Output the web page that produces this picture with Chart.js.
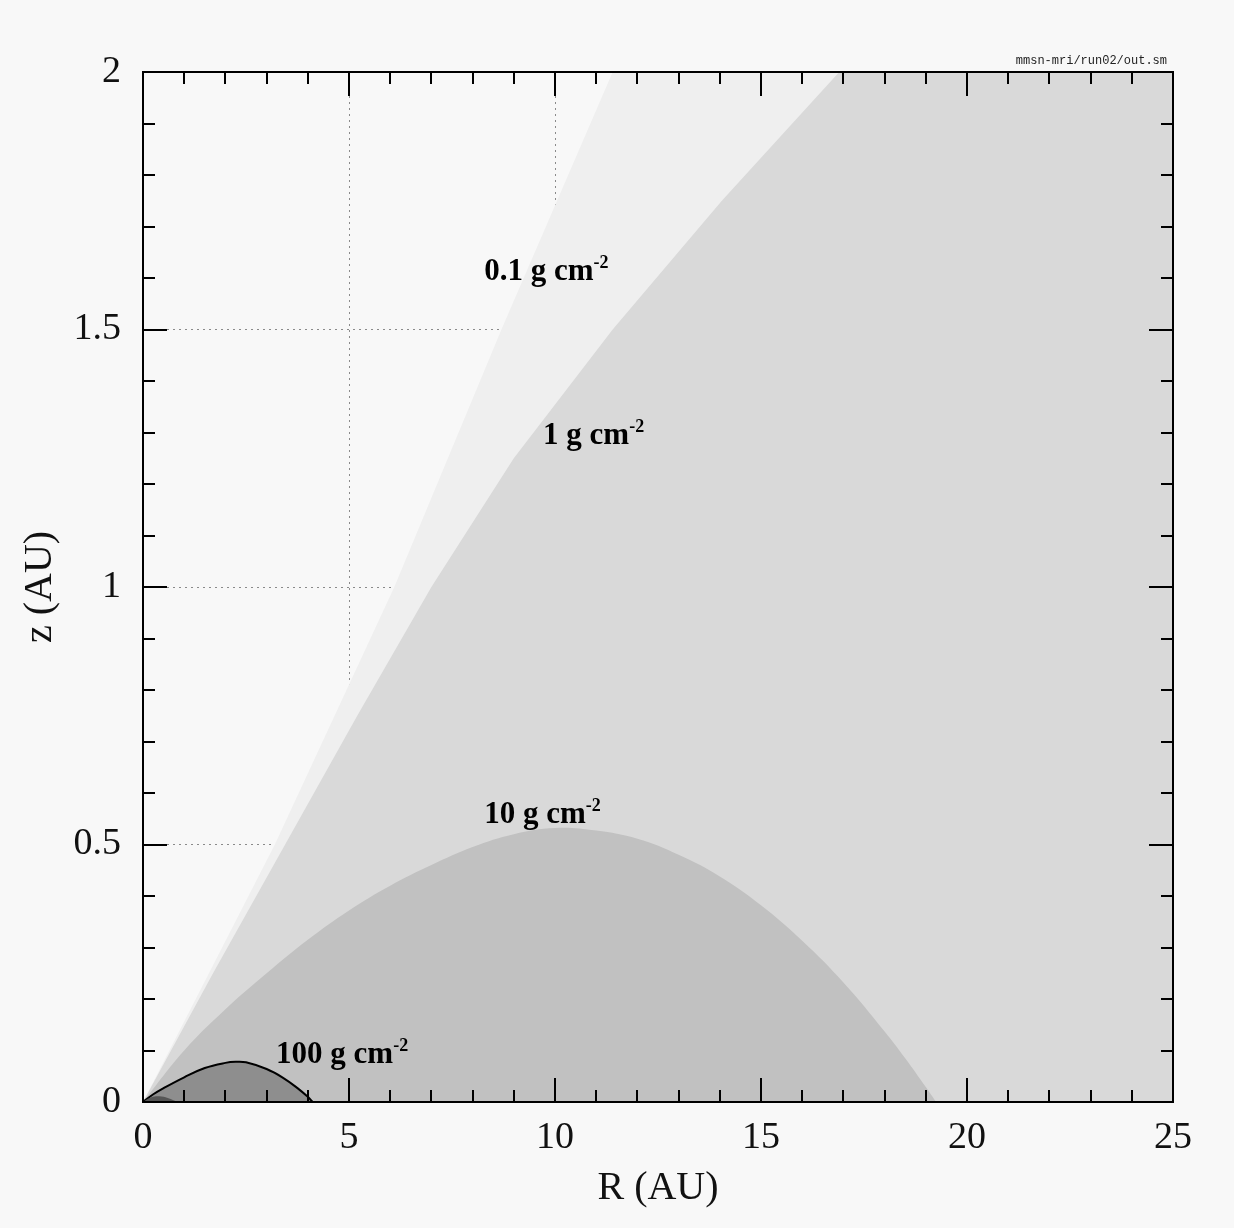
<!DOCTYPE html>
<html>
<head>
<meta charset="utf-8">
<title>Column density contours</title>
<script src="https://cdn.jsdelivr.net/npm/chart.js@4.4.1/dist/chart.umd.min.js"></script>
<style>
  html, body { margin: 0; padding: 0; background: #f8f8f8; }
  canvas { display: block; }
</style>
</head>
<body>
<canvas id="diskChart" width="1234" height="1228"></canvas>
<script>
// contours of column density measured down from the surface, R and z in AU
const sigma01R = [0, 3.2, 6.1, 8.7, 11.4, 25];
const sigma01Z = [0, 0.5, 1.0, 1.5, 2.0, 2.0];

const sigma1R = [0, 1.7, 3.45, 5.2, 7.0, 9.0, 11.4, 14.05, 16.9, 25];
const sigma1Z = [0, 0.25, 0.5, 0.75, 1.0, 1.25, 1.5, 1.75, 2.0, 2.0];

const sigma10R = [0, 1, 2, 3, 4, 5, 6, 7, 8, 9, 10, 11, 12, 13, 14, 15, 16, 17, 18, 18.5, 19, 19.25];
const sigma10Z = [0, 0.10, 0.18, 0.25, 0.315, 0.372, 0.42, 0.46, 0.495, 0.52, 0.532, 0.527, 0.511, 0.48, 0.438, 0.382, 0.313, 0.232, 0.137, 0.085, 0.029, 0];

const sigma100R = [0, 0.25, 0.5, 1, 1.5, 2, 2.25, 2.5, 3, 3.4, 3.75, 4.0, 4.12];
const sigma100Z = [0, 0.015, 0.027, 0.048, 0.066, 0.076, 0.078, 0.077, 0.064, 0.047, 0.027, 0.01, 0];

const sigma1000R = [0, 0.2, 0.4, 0.6, 0.85];
const sigma1000Z = [0, 0.009, 0.011, 0.008, 0];

const xTicks = [0, 5, 10, 15, 20, 25];
const yTicks = [0, 0.5, 1, 1.5, 2];

// label text, value of the contour, and where its text starts (R, z)
const contourLabels = [
  { value: '0.1', R: 8.28, z: 1.596 },
  { value: '1',   R: 9.71, z: 1.278 },
  { value: '10',  R: 8.28, z: 0.541 },
  { value: '100', R: 3.23, z: 0.076 }
];

const toPoints = (rs, zs) => rs.map((r, i) => ({ x: r, y: zs[i] }));

function region(rs, zs, color, order, tension) {
  return {
    data: toPoints(rs, zs),
    backgroundColor: color,
    borderWidth: 0,
    pointRadius: 0,
    fill: 'origin',
    order: order,
    tension: tension
  };
}

const outline100 = region(sigma100R, sigma100Z, '#8e8e8e', 2, 0.4);
outline100.borderWidth = 2;
outline100.borderColor = '#000';

const serif = '"Liberation Serif", "Times New Roman", serif';

const framePlugin = {
  id: 'frame',
  afterDatasetsDraw(chart) {
    const { ctx, chartArea: a, scales: { x, y } } = chart;
    ctx.save();
    ctx.strokeStyle = '#000';
    ctx.lineWidth = 2;
    ctx.beginPath();
    for (let i = 0; i <= 25; i++) {
      const px = Math.round(x.getPixelForValue(i));
      const len = i % 5 === 0 ? 24 : 12;
      ctx.moveTo(px, a.bottom); ctx.lineTo(px, a.bottom - len);
      ctx.moveTo(px, a.top); ctx.lineTo(px, a.top + len);
    }
    for (let i = 0; i <= 20; i++) {
      const py = Math.round(y.getPixelForValue(i / 10));
      const len = i % 5 === 0 ? 24 : 12;
      ctx.moveTo(a.left, py); ctx.lineTo(a.left + len, py);
      ctx.moveTo(a.right, py); ctx.lineTo(a.right - len, py);
    }
    ctx.stroke();
    ctx.strokeRect(a.left, a.top, a.width, a.height);

    // contour labels, e.g. "10 g cm^-2"
    ctx.fillStyle = '#000';
    ctx.textBaseline = 'alphabetic';
    ctx.textAlign = 'left';
    contourLabels.forEach(l => {
      const px = x.getPixelForValue(l.R);
      const py = y.getPixelForValue(l.z);
      ctx.font = 'bold 31px ' + serif;
      const main = l.value + ' g cm';
      ctx.fillText(main, px, py);
      const w = ctx.measureText(main).width;
      ctx.font = 'bold 18px ' + serif;
      ctx.fillText('-2', px + w, py - 12);
    });

    ctx.font = '12px "Liberation Mono", monospace';
    ctx.textAlign = 'right';
    ctx.fillStyle = '#222';
    ctx.fillText('mmsn-mri/run02/out.sm', a.right - 6, a.top - 8);
    ctx.restore();
  }
};

new Chart(document.getElementById('diskChart').getContext('2d'), {
  type: 'line',
  data: {
    datasets: [
      region(sigma1000R, sigma1000Z, '#555555', 1, 0.4),
      outline100,
      region(sigma10R, sigma10Z, '#c1c1c1', 3, 0.4),
      region(sigma1R, sigma1Z, '#d9d9d9', 4, 0),
      region(sigma01R, sigma01Z, '#efefef', 5, 0)
    ]
  },
  options: {
    responsive: false,
    animation: false,
    layout: { padding: { left: 0, top: 72, right: 61, bottom: 0 } },
    plugins: {
      legend: { display: false },
      tooltip: { enabled: false }
    },
    scales: {
      x: {
        type: 'linear',
        min: 0,
        max: 25,
        afterFit: s => { s.height = 126; },
        afterBuildTicks: s => { s.ticks = xTicks.map(v => ({ value: v })); },
        grid: { color: '#8a8a8a', lineWidth: 1, drawTicks: false },
        border: { display: false, dash: [2, 4] },
        ticks: { padding: 13, color: '#111', font: { family: serif, size: 38 }, maxRotation: 0,
                 callback: v => String(v) },
        title: {
          display: true, text: 'R (AU)', color: '#111',
          font: { family: serif, size: 40 }, padding: { top: 0, bottom: 16 }
        }
      },
      y: {
        type: 'linear',
        min: 0,
        max: 2,
        afterFit: s => { s.width = 143; },
        afterBuildTicks: s => { s.ticks = yTicks.map(v => ({ value: v })); },
        grid: { color: '#8a8a8a', lineWidth: 1, drawTicks: false },
        border: { display: false, dash: [2, 4] },
        ticks: { padding: 22, color: '#111', font: { family: serif, size: 38 },
                 callback: v => String(v) },
        title: {
          display: true, text: 'z (AU)', color: '#111',
          font: { family: serif, size: 40 }, padding: { top: 16, bottom: 0 }
        }
      }
    }
  },
  plugins: [framePlugin]
});
</script>
</body>
</html>
